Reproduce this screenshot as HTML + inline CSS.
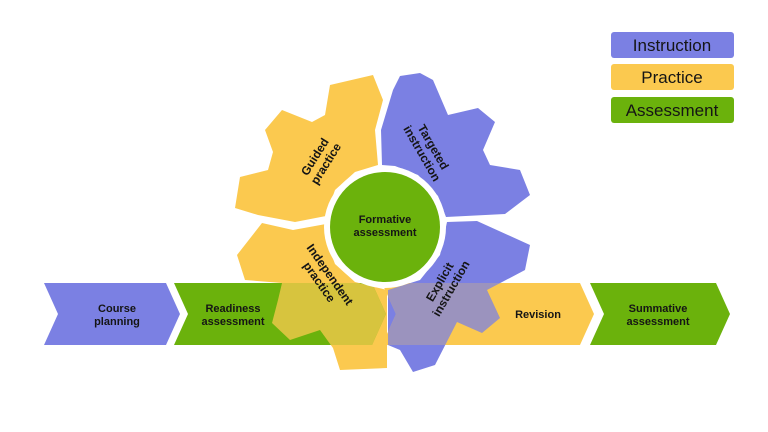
<!DOCTYPE html>
<html><head><meta charset="utf-8"><style>
html,body{margin:0;padding:0;background:#fff;overflow:hidden;}
svg{display:block;}
text{font-family:"Liberation Sans",sans-serif;fill:#151515;}
.b{font-weight:bold;font-size:11px;}
.g{font-weight:bold;font-size:12px;}
.lg{font-size:17px;}
</style></head><body>
<svg width="768" height="432" viewBox="0 0 768 432">
<defs>
  <g id="allgear">
    <polygon fill="#fbc94f" points="383,100 373,75 330,85 325,115 312,122 282,110 265,130 273,152 268,170 240,177 235,208 258,215 295,222 326,216 335,190 355,172 378,165 375,130"/>
    <polygon fill="#7b80e3" points="382,165 381,130 393,90 400,76 420,73 433,80 448,115 478,108 495,122 483,150 490,165 520,170 530,195 505,214 446,217 438,196 418,175 395,166"/>
    <polygon fill="#fbc94f" points="262,223 237,255 245,280 282,283 278,300 272,323 290,340 320,330 333,348 340,370 387,368 387,290 355,282 335,264 326,240 326,224 293,230"/>
    <polygon fill="#7b80e3" points="388,290 388,345 400,350 413,372 435,365 457,322 482,333 500,318 487,290 525,270 530,245 477,221 447,222 440,255 420,280"/>
  </g>
  <clipPath id="arrows">
    <polygon points="44,283 166,283 180,314 166,345 44,345 58,314"/>
    <polygon points="174,283 372,283 386,314 372,345 174,345 188,314"/>
    <polygon points="382,283 580,283 594,314 580,345 382,345 396,314"/>
    <polygon points="590,283 716,283 730,314 716,345 590,345 604,314"/>
  </clipPath>
</defs>

<use href="#allgear"/>

<polygon points="44,283 166,283 180,314 166,345 44,345 58,314" fill="#7b80e3"/>
<polygon points="174,283 372,283 386,314 372,345 174,345 188,314" fill="#6bb20c"/>
<polygon points="382,283 580,283 594,314 580,345 382,345 396,314" fill="#fbc94f"/>
<polygon points="590,283 716,283 730,314 716,345 590,345 604,314" fill="#6bb20c"/>

<g clip-path="url(#arrows)" opacity="0.75">
  <use href="#allgear"/>
</g>

<circle cx="385" cy="227" r="61" fill="#fff"/>
<circle cx="385" cy="227" r="55" fill="#6bb20c"/>

<text class="b" text-anchor="middle" x="385" y="223">Formative</text>
<text class="b" text-anchor="middle" x="385" y="236">assessment</text>

<g transform="translate(320,160) rotate(-58)">
  <text class="g" text-anchor="middle" x="0" y="-2">Guided</text>
  <text class="g" text-anchor="middle" x="0" y="11">practice</text>
</g>
<g transform="translate(428,150) rotate(60)">
  <text class="g" text-anchor="middle" x="0" y="-2">Targeted</text>
  <text class="g" text-anchor="middle" x="0" y="11">instruction</text>
</g>
<g transform="translate(325,278) rotate(55)">
  <text class="g" text-anchor="middle" x="0" y="-2">Independent</text>
  <text class="g" text-anchor="middle" x="0" y="11">practice</text>
</g>
<g transform="translate(445,285) rotate(-60)">
  <text class="g" text-anchor="middle" x="0" y="-2">Explicit</text>
  <text class="g" text-anchor="middle" x="0" y="11">instruction</text>
</g>

<text class="b" text-anchor="middle" x="117" y="312">Course</text>
<text class="b" text-anchor="middle" x="117" y="325">planning</text>
<text class="b" text-anchor="middle" x="233" y="312">Readiness</text>
<text class="b" text-anchor="middle" x="233" y="325">assessment</text>
<text class="b" text-anchor="middle" x="538" y="318">Revision</text>
<text class="b" text-anchor="middle" x="658" y="312">Summative</text>
<text class="b" text-anchor="middle" x="658" y="325">assessment</text>

<rect x="611" y="32" width="123" height="26" rx="3" fill="#7b80e3"/>
<rect x="611" y="64" width="123" height="26" rx="3" fill="#fbc94f"/>
<rect x="611" y="97" width="123" height="26" rx="3" fill="#6bb20c"/>
<text class="lg" text-anchor="middle" x="672" y="51">Instruction</text>
<text class="lg" text-anchor="middle" x="672" y="83">Practice</text>
<text class="lg" text-anchor="middle" x="672" y="116">Assessment</text>
</svg>
</body></html>
